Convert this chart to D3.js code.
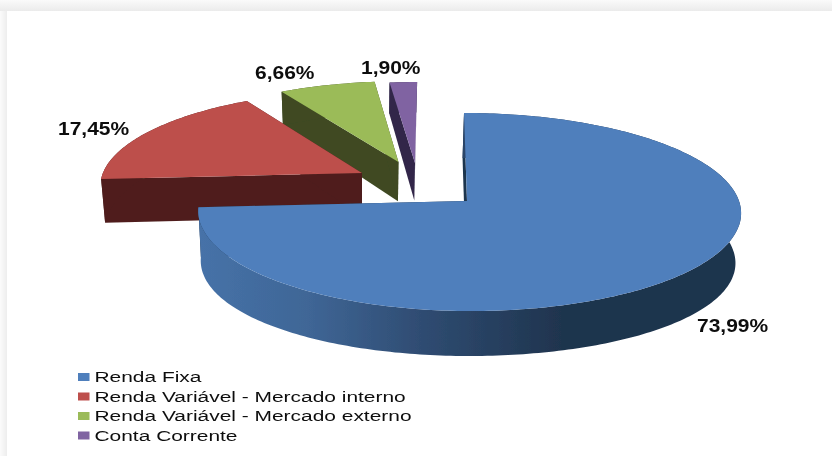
<!DOCTYPE html>
<html>
<head>
<meta charset="utf-8">
<title>Alocacao</title>
<script src="https://d3js.org/d3.v7.min.js"></script>
<style type="text/css">
html, body {
	margin: 0;
	padding: 0;
	background: #fff;
	overflow: hidden;
}
text {
	font-family: "Liberation Sans", Arial, sans-serif;
	fill: #111;
}
</style>
</head>
<body>
<div id="chart"></div>
<script>
// values as printed on the chart
var categories = ["Renda Fixa", "Renda Variável - Mercado interno", "Renda Variável - Mercado externo", "Conta Corrente"];
var values = [73.99, 17.45, 6.66, 1.90];
var valueLabels = ["73,99%", "17,45%", "6,66%", "1,90%"];

var topColors = ["#4f7fbc", "#bd4f4c", "#9bbb59", "#8064a2"];
var wallColors = ["url(#blueWall)", "#4f1f1e", "#3f4a22", "#32284a"];

var width = 832, height = 456;

// exploded offset of each slice on the pie plane, and the wall height
var explodeX = [0, -0.402, -0.263, -0.198];
var explodeZ = [0, 0.295, 0.417, 0.406];
var wallDepth = [50, 44, 40, 38];
var labelPos = [[697, 331.5], [58, 135], [255, 78.5], [361, 74]];

var svg = d3.select("#chart").append("svg")
	.attr("width", width)
	.attr("height", height);

var defs = svg.append("defs");

// grey frame around the white panel
var frameTop = defs.append("linearGradient").attr("id", "frameTop").attr("x1", 0).attr("x2", 0).attr("y1", 0).attr("y2", 1);
frameTop.append("stop").attr("offset", 0).attr("stop-color", "#fafafa");
frameTop.append("stop").attr("offset", 1).attr("stop-color", "#ebebeb");
var frameLeft = defs.append("linearGradient").attr("id", "frameLeft");
frameLeft.append("stop").attr("offset", 0).attr("stop-color", "#fbfbfb");
frameLeft.append("stop").attr("offset", 1).attr("stop-color", "#ededed");

var wallGrad = defs.append("linearGradient").attr("id", "blueWall")
	.attr("gradientUnits", "userSpaceOnUse")
	.attr("x1", 200).attr("x2", 740).attr("y1", 0).attr("y2", 0);
[[0, "#4672a8"], [0.2, "#3f6696"], [0.41, "#2f4c72"], [0.67, "#1f344e"], [1, "#1f344e"]].forEach(function(s) {
	wallGrad.append("stop").attr("offset", s[0]).attr("stop-color", s[1]);
});

defs.append("filter").attr("id", "soft")
	.append("feGaussianBlur").attr("stdDeviation", 0.45);
defs.append("filter").attr("id", "softText")
	.append("feGaussianBlur").attr("stdDeviation", 0.3);

svg.append("rect").attr("width", width).attr("height", 11).attr("fill", "url(#frameTop)");
svg.append("rect").attr("y", 11).attr("width", 7).attr("height", height - 11).attr("fill", "url(#frameLeft)");

// the pie plane is seen in perspective, these map it on the screen
var x = d3.scaleLinear().domain([-1, 0, 1]).range([467 - 267.5, 467, 467 + 272]);
var y = d3.scaleLinear().domain([-1, 1]).range([201 + 97.8, 201 - 97.8]);
var persp = 0.111, shear = 0.034;

function project(px, pz, depth) {
	var s = 1 / (1 + persp * pz);
	var sx = x(px * s);
	var sy = y(pz * s);
	sx = sx + shear * (sy - 201);
	if (depth) {
		sy = sy + depth * (1 - 0.1 * pz * pz);
		sx = 467 + (sx - 467) * 0.985 - 1.5;
	}
	return [sx, sy];
}

var pie = d3.pie().sort(null).startAngle(0).endAngle(2 * Math.PI);
var slices = pie(values);
var line = d3.line();

function rim(d, i, depth) {
	var n = Math.ceil((d.endAngle - d.startAngle) * 180 / Math.PI);
	return d3.range(n + 1).map(function(k) {
		var a = d.startAngle + (d.endAngle - d.startAngle) * k / n;
		return project(explodeX[i] + Math.sin(a), explodeZ[i] + Math.cos(a), depth);
	});
}

function apex(i, depth) {
	return project(explodeX[i], explodeZ[i], depth);
}

// back slices first so the front ones cover them
var pieG = svg.append("g").attr("filter", "url(#soft)");
[3, 2, 1, 0].forEach(function(i) {
	var d = slices[i];
	var g = pieG.append("g").attr("class", "slice");
	var up = rim(d, i, 0);
	var down = rim(d, i, wallDepth[i]);
	var a0 = apex(i, 0), a1 = apex(i, wallDepth[i]);
	var wallFill = i === 0 ? "#1f344e" : wallColors[i];

	// flat sides
	g.append("path")
		.attr("d", line([a0, up[0], down[0], a1]) + "Z")
		.attr("fill", wallFill);
	g.append("path")
		.attr("d", line([a0, up[up.length - 1], down[down.length - 1], a1]) + "Z")
		.attr("fill", wallFill);
	// outer wall
	g.append("path")
		.attr("d", line(up.concat(down.slice().reverse())) + "Z")
		.attr("fill", wallColors[i]);
	// top
	g.append("path")
		.attr("d", line([a0].concat(up)) + "Z")
		.attr("fill", topColors[i]);
});

// value labels
svg.selectAll(".label")
	.data(valueLabels)
	.enter().append("text")
	.attr("class", "label")
	.attr("transform", function(d, i) {
		return "translate(" + labelPos[i][0] + "," + labelPos[i][1] + ") scale(1.2,1)";
	})
	.attr("filter", "url(#softText)")
	.style("font-size", "17.5px")
	.style("font-weight", "bold")
	.text(function(d) { return d; });

// legend
var legendY = d3.scaleBand().domain(categories).range([367, 445]);

var legend = svg.selectAll(".legend")
	.data(categories)
	.enter().append("g")
	.attr("class", "legend")
	.attr("transform", function(d) { return "translate(78," + legendY(d) + ")"; });

legend.append("rect")
	.attr("y", 6)
	.attr("width", 11.5)
	.attr("height", 8)
	.attr("fill", function(d, i) { return topColors[i]; });

legend.append("text")
	.attr("transform", "translate(16.5,15) scale(1.35,1)")
	.attr("filter", "url(#softText)")
	.style("font-size", "15.5px")
	.text(function(d) { return d; });
</script>
</body>
</html>
